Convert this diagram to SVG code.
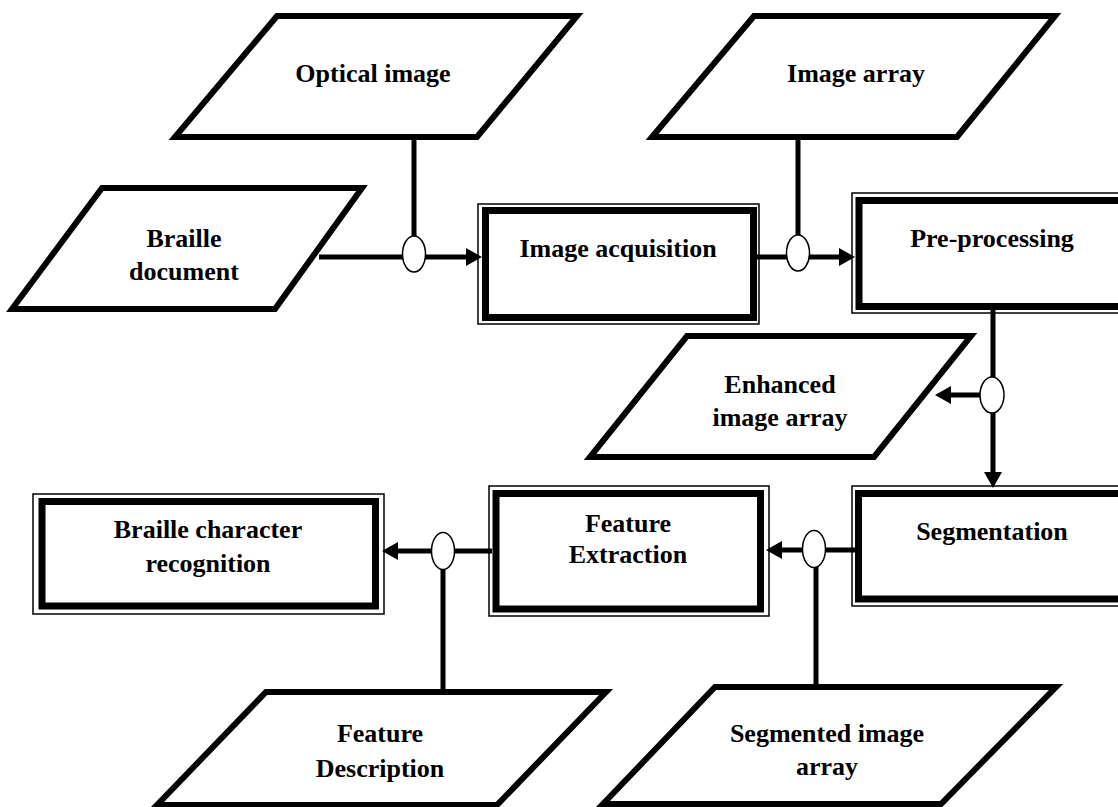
<svg xmlns="http://www.w3.org/2000/svg" width="1118" height="807" viewBox="0 0 1118 807">
<style>
.para{fill:#fff;stroke:#000;stroke-width:6;stroke-linejoin:miter}
.thick{fill:#fff;stroke:#000;stroke-width:7}
.thin{fill:none;stroke:#000;stroke-width:1.5}
.line{fill:none;stroke:#000;stroke-width:5}
.ell{fill:#fff;stroke:#000;stroke-width:1.5}
text{font-family:"Liberation Serif","Times New Roman",serif;font-weight:bold;font-size:26px;text-anchor:middle;fill:#000}
</style>
<defs>
<marker id="ah" markerUnits="userSpaceOnUse" markerWidth="16" markerHeight="18" refX="0" refY="9" orient="auto">
<path d="M0,0 L16,9 L0,18 z" fill="#000"/>
</marker>
</defs>
<rect width="1118" height="807" fill="#fff"/>

<g id="optical-image">
<polygon class="para" points="277,16 577,16 477,137 175,137"/>
<text x="373" y="82">Optical image</text>
</g>
<g id="image-array">
<polygon class="para" points="754,16 1055,16 957,137 652,137"/>
<text x="856" y="82">Image array</text>
</g>
<g id="braille-document">
<polygon class="para" points="102,188 362,188 275,309 12,309"/>
<text x="184" y="247">Braille</text>
<text x="184" y="280">document</text>
</g>
<g id="image-acquisition">
<rect class="thin" x="478" y="204" width="281" height="120"/>
<rect class="thick" x="485.5" y="210.5" width="268" height="107"/>
<text x="618" y="257">Image acquisition</text>
</g>
<g id="pre-processing">
<rect class="thin" x="852" y="193" width="300" height="120"/>
<rect class="thick" x="859" y="200.5" width="290" height="106"/>
<text x="992" y="247">Pre-processing</text>
</g>
<g id="enhanced-image-array">
<polygon class="para" points="687,336 971,336 874,457 590,457"/>
<text x="780" y="393">Enhanced</text>
<text x="780" y="426">image array</text>
</g>
<g id="segmentation">
<rect class="thin" x="852" y="486" width="300" height="120"/>
<rect class="thick" x="858.5" y="493.5" width="290" height="105.5"/>
<text x="992" y="540">Segmentation</text>
</g>
<g id="feature-extraction">
<rect class="thin" x="489" y="486" width="280" height="130"/>
<rect class="thick" x="496" y="493.5" width="264.5" height="115.5"/>
<text x="628" y="532">Feature</text>
<text x="628" y="563">Extraction</text>
</g>
<g id="braille-character-recognition">
<rect class="thin" x="33" y="494" width="351" height="120"/>
<rect class="thick" x="42" y="501.5" width="333.5" height="104.5"/>
<text x="208" y="538">Braille character</text>
<text x="208" y="572">recognition</text>
</g>
<g id="feature-description">
<polygon class="para" points="266,692 606,692 497,805 157,805"/>
<text x="380" y="742">Feature</text>
<text x="380" y="777">Description</text>
</g>
<g id="segmented-image-array">
<polygon class="para" points="715,687 1056,687 941,804 603,804"/>
<text x="827" y="742">Segmented image</text>
<text x="827" y="775">array</text>
</g>

<g id="connectors">
<line class="line" x1="414" y1="137" x2="414" y2="240"/>
<line class="line" x1="319" y1="257" x2="466" y2="257" marker-end="url(#ah)"/>
<ellipse class="ell" cx="414" cy="254" rx="11.5" ry="18"/>

<line class="line" x1="798" y1="137" x2="798" y2="240"/>
<line class="line" x1="757" y1="257" x2="839" y2="257" marker-end="url(#ah)"/>
<ellipse class="ell" cx="798" cy="253" rx="11.5" ry="18"/>

<line class="line" x1="993" y1="310" x2="993" y2="472" marker-end="url(#ah)"/>
<line class="line" x1="985" y1="395" x2="951" y2="395" marker-end="url(#ah)"/>
<ellipse class="ell" cx="992" cy="395" rx="12" ry="18"/>

<line class="line" x1="855" y1="550" x2="782" y2="550" marker-end="url(#ah)"/>
<line class="line" x1="816" y1="560" x2="816" y2="687"/>
<ellipse class="ell" cx="814" cy="549" rx="11.5" ry="18.5"/>

<line class="line" x1="492" y1="551" x2="398" y2="551" marker-end="url(#ah)"/>
<line class="line" x1="443" y1="560" x2="443" y2="692"/>
<ellipse class="ell" cx="443" cy="551" rx="11.5" ry="18.5"/>
</g>
</svg>
